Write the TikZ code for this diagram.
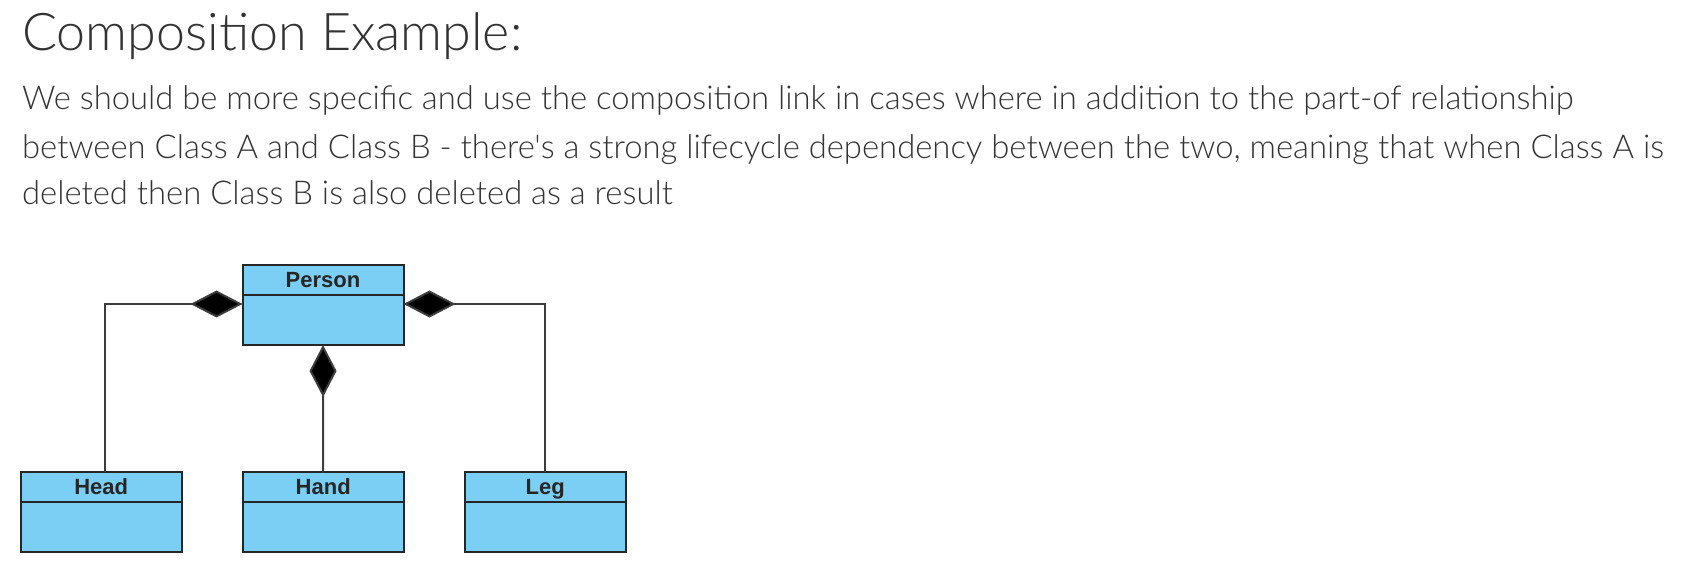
\documentclass[tikz,border=0pt]{standalone}
\usepackage{fontspec}
\setmainfont{Liberation Sans}
\newfontfamily\bodyfont{Lato Light}
\usetikzlibrary{arrows.meta, positioning, shapes}
\definecolor{umlblue}{RGB}{124,207,244}
\definecolor{textgray}{RGB}{51,51,51}
\definecolor{linegray}{RGB}{60,60,60}

\begin{document}
\begin{tikzpicture}[x=0.5pt, y=-0.5pt,
	classhead/.style={draw=black!85, line width=1pt, outer sep=0pt, fill=umlblue, minimum width=80.5pt, minimum height=15pt, inner sep=0pt, text height=9pt, text depth=1.5pt, font=\fontsize{11}{11}\selectfont\bfseries, text=black!85},
	classbody/.style={draw=black!85, line width=1pt, outer sep=0pt, fill=umlblue, minimum width=80.5pt, minimum height=25pt, inner sep=0pt},
	compo/.style={draw=linegray, line width=1pt, {Diamond[length=26pt, width=13.5pt, fill=black]}-}]
	\def\bodysize{\fontsize{16.4}{16.4}\selectfont}

	\useasboundingbox (0,0) rectangle (1682,572);

	% text above the diagram
	\node[anchor=base west, inner sep=0pt, text=textgray, font=\bodyfont\fontsize{26}{26}\selectfont] (title) at (21.7,50.7) {Composition Example:};
	\node[anchor=base west, inner sep=0pt, text=textgray, font=\bodyfont\bodysize] (line1) at (21.7,110) {We should be more specific and use the composition link in cases where in addition to the part-of relationship};
	\node[anchor=base west, inner sep=0pt, text=textgray, font=\bodyfont\bodysize] (line2) at (21.7,158.3) {between Class A and Class B - there's a strong lifecycle dependency between the two, meaning that when Class A is};
	\node[anchor=base west, inner sep=0pt, text=textgray, font=\bodyfont\bodysize] (line3) at (21.7,204.3) {deleted then Class B is also deleted as a result};

	% classes
	\node[classhead] (person) at (323,280) {Person};
	\node[classbody, below=0pt of person] (personbody) {};
	\node[classhead] (head) at (101.2,487.3) {Head};
	\node[classbody, below=0pt of head] (headbody) {};
	\node[classhead, right=30.5pt of head] (hand) {Hand};
	\node[classbody, below=0pt of hand] (handbody) {};
	\node[classhead, right=30.5pt of hand] (leg) {Leg};
	\node[classbody, below=0pt of leg] (legbody) {};

	% composition links
	\draw[compo]	([yshift=-4.5pt]personbody.north west) -| ([xshift=2pt]head.north);
	\draw[compo]	(personbody.south) -- (hand.north);
	\draw[compo]	([yshift=-4.5pt]personbody.north east) -| (leg.north);
\end{tikzpicture}
\end{document}
